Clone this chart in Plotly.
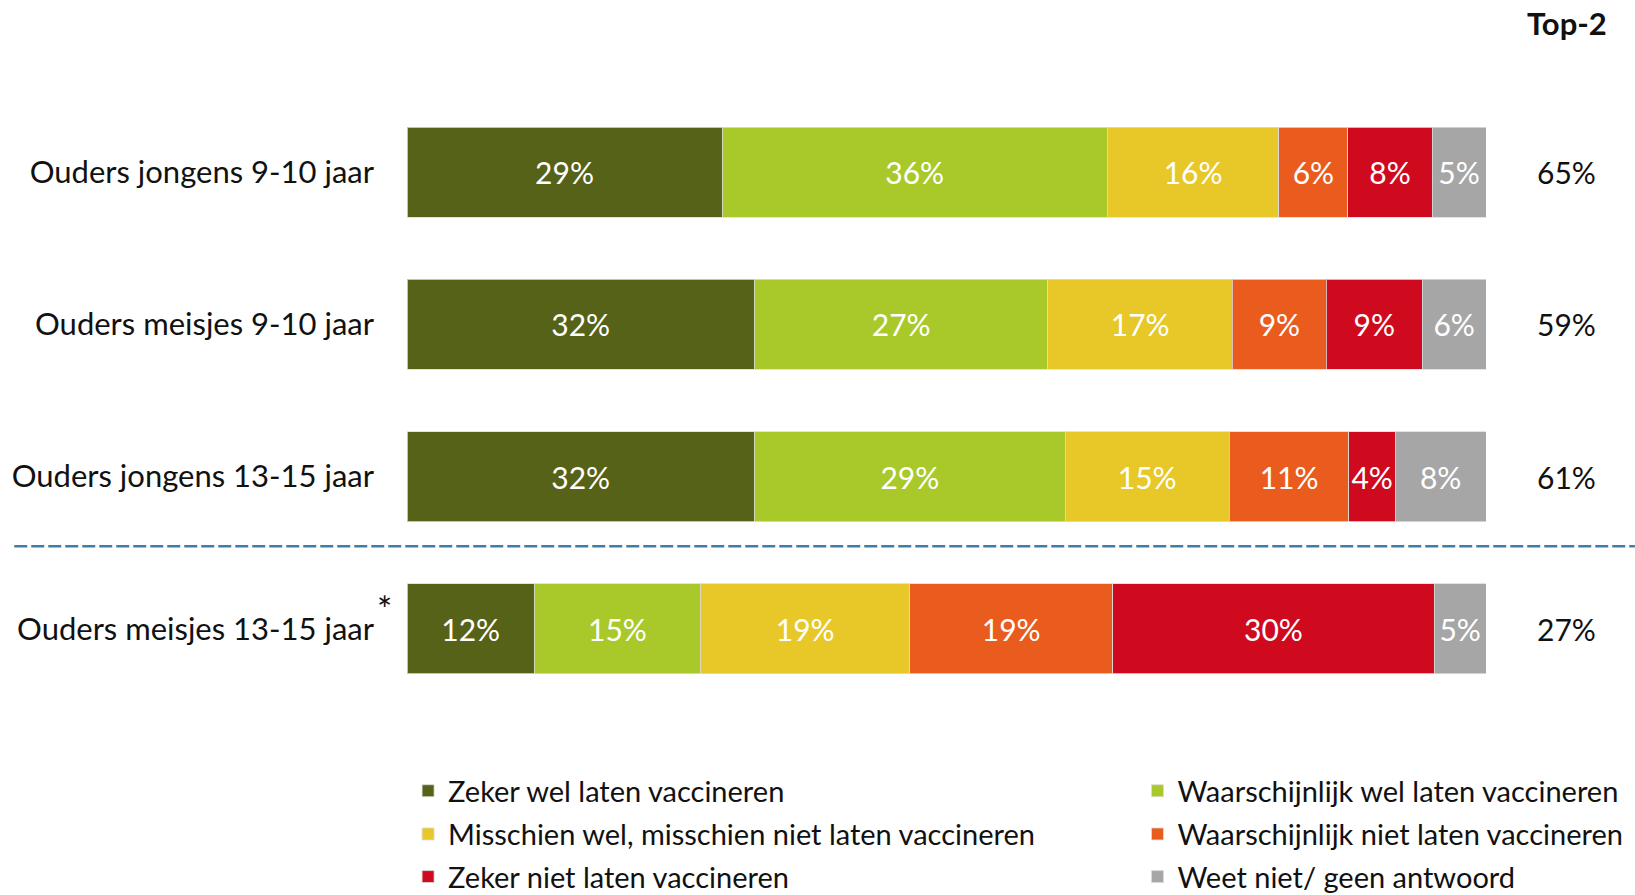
import plotly.graph_objects as go

categories = ["Ouders jongens 9-10 jaar", "Ouders meisjes 9-10 jaar",
              "Ouders jongens 13-15 jaar", "Ouders meisjes 13-15 jaar"]
series_names = ["Zeker wel laten vaccineren", "Waarschijnlijk wel laten vaccineren",
                "Misschien wel, misschien niet laten vaccineren", "Waarschijnlijk niet laten vaccineren",
                "Zeker niet laten vaccineren", "Weet niet/ geen antwoord"]
zeker_wel = [29.2, 32.2, 32.2, 11.8]
waarschijnlijk_wel = [35.7, 27.2, 28.8, 15.4]
misschien = [15.9, 17.1, 15.2, 19.4]
waarschijnlijk_niet = [6.4, 8.7, 11.1, 18.8]
zeker_niet = [7.8, 8.9, 4.3, 29.8]
weet_niet = [5.0, 5.9, 8.4, 4.8]
top2 = [65, 59, 61, 27]

series_values = [zeker_wel, waarschijnlijk_wel, misschien, waarschijnlijk_niet, zeker_niet, weet_niet]
colors = ["#566218", "#a9c92b", "#e8c829", "#e95c1e", "#cf0a1f", "#a6a6a6"]
legend_ids = ["legend", "legend2", "legend3", "legend4", "legend5", "legend6"]

FONT = "Lato"
TXT = "#111111"
fig = go.Figure()
for name, vals, col, lg in zip(series_names, series_values, colors, legend_ids):
    fig.add_trace(go.Bar(
        y=categories, x=vals, name=name, orientation="h",
        marker=dict(color=col, line=dict(color="rgba(220,220,220,0.8)", width=1)),
        texttemplate="%{x:.0f}%", textposition="inside", insidetextanchor="middle",
        textangle=0, constraintext="none",
        textfont=dict(color="white", size=30, family=FONT),
        width=0.59, legend=lg, hoverinfo="skip",
    ))

fig.update_layout(
    barmode="stack",
    width=1635, height=895,
    margin=dict(l=407, r=149, t=96, b=190, autoexpand=False),
    paper_bgcolor="white", plot_bgcolor="white",
    font=dict(family=FONT, color=TXT),
    xaxis=dict(range=[0, 100], visible=False, fixedrange=True),
    yaxis=dict(autorange="reversed", showgrid=False, zeroline=False, showline=False,
               automargin=False, ticks="", ticklabelstandoff=32, fixedrange=True,
               tickfont=dict(size=31, family=FONT, color=TXT)),
    showlegend=True,
)

col_x = [0.001, 0.677]
row_y = [-0.141, -0.212, -0.282]
for i, lg in enumerate(legend_ids):
    fig.update_layout({lg: dict(
        orientation="v", font=dict(size=29, family=FONT, color=TXT),
        bgcolor="rgba(0,0,0,0)", borderwidth=0,
        x=col_x[i % 2], xanchor="left", y=row_y[i // 2], yanchor="middle")})

# Top-2 column
fig.add_annotation(text="<b>Top-2</b>", xref="paper", yref="paper", x=1.075, y=1.12,
                   xanchor="center", yanchor="middle", showarrow=False,
                   font=dict(size=31, family=FONT, color=TXT))
for cat, v in zip(categories, top2):
    fig.add_annotation(text=f"{v}%", xref="paper", yref="y", x=1.075, y=cat,
                       xanchor="center", yanchor="middle", showarrow=False,
                       font=dict(size=30, family=FONT, color=TXT))

# asterisk
fig.add_annotation(text="*", xref="paper", yref="y", x=-0.0213, y=2.87, showarrow=False,
                   xanchor="center", yanchor="middle",
                   font=dict(size=36, family=FONT, color=TXT))

# dashed separator
fig.add_shape(type="line", xref="paper", yref="y", x0=-0.364, x1=1.138, y0=2.458, y1=2.458,
              line=dict(color="#3f7fa6", width=2.5, dash="13px,4px"))

fig.write_html("out.html", config={"displayModeBar": False},
               post_script="document.body.style.margin='0';")
